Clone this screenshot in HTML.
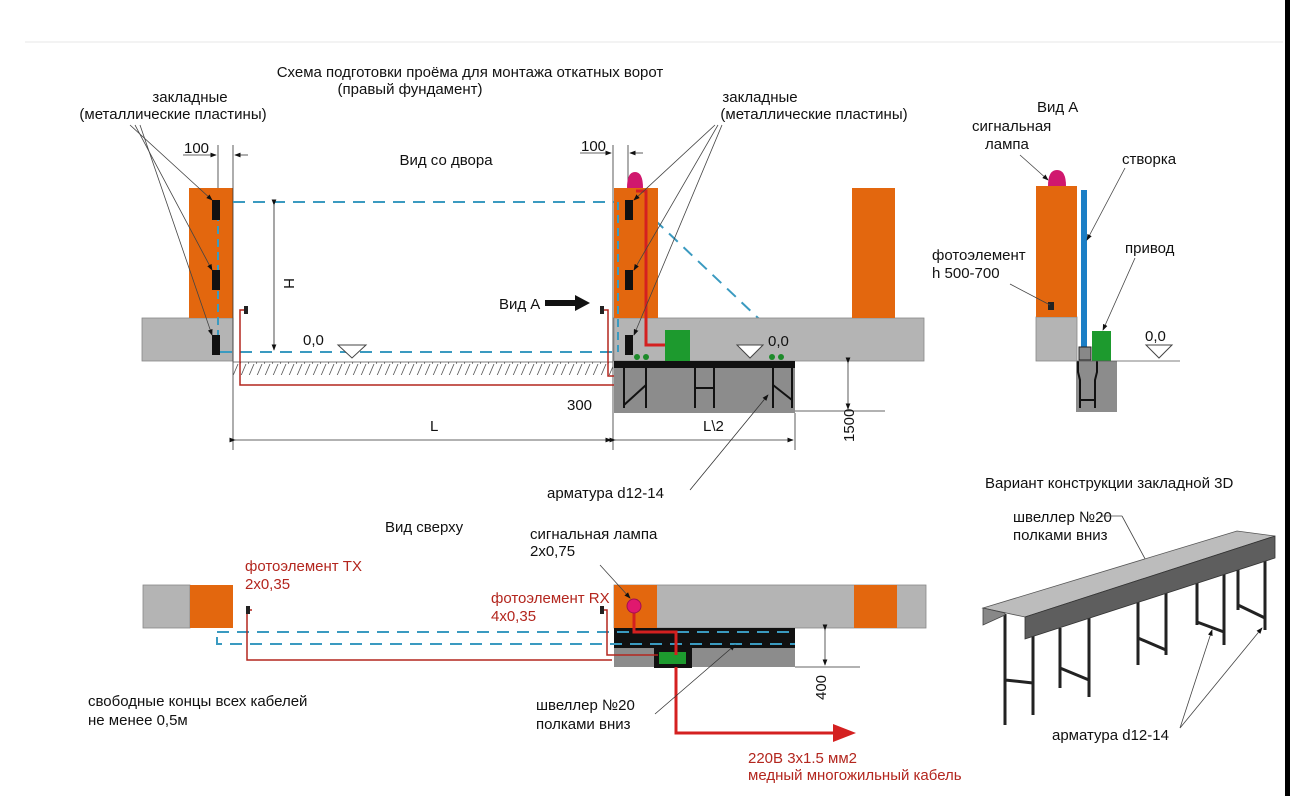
<!DOCTYPE html>
<html><head><meta charset="utf-8"><style>
html,body{margin:0;padding:0;background:#fff;}
svg{display:block;}
text{font-family:"Liberation Sans","DejaVu Sans",sans-serif;font-size:15px;fill:#111;}
.r{fill:#b3261e;}
</style></head><body>
<svg width="1290" height="796" viewBox="0 0 1290 796" xmlns="http://www.w3.org/2000/svg">
<defs>
<marker id="a" markerWidth="8" markerHeight="8" refX="7" refY="4" orient="auto"><path d="M0,1 L8,4 L0,7z" fill="#111"/></marker>
<pattern id="h" width="8" height="14" patternUnits="userSpaceOnUse"><line x1="0" y1="14" x2="6" y2="0" stroke="#555" stroke-width="0.8"/></pattern>
</defs>
<rect x="1285" y="0" width="5" height="796" fill="#000"/>
<line x1="25" y1="42" x2="1283" y2="42" stroke="#f3f3f3" stroke-width="2"/>

<!-- titles -->
<text x="470" y="77" text-anchor="middle">Схема подготовки проёма для монтажа откатных ворот</text>
<text x="410" y="94" text-anchor="middle">(правый фундамент)</text>
<text x="190" y="102" text-anchor="middle">закладные</text>
<text x="173" y="119" text-anchor="middle">(металлические пластины)</text>
<text x="760" y="102" text-anchor="middle">закладные</text>
<text x="814" y="119" text-anchor="middle">(металлические пластины)</text>
<text x="446" y="165" text-anchor="middle">Вид со двора</text>

<!-- left pillar -->
<rect x="142" y="318" width="91" height="43" fill="#b4b4b4" stroke="#888" stroke-width="0.8"/>
<rect x="189" y="188" width="44" height="130" fill="#e3670e"/>
<line x1="218" y1="200" x2="218" y2="352" stroke="#3a9ac0" stroke-width="2" stroke-dasharray="8,5"/>
<rect x="212" y="200" width="8" height="20" fill="#111"/>
<rect x="212" y="270" width="8" height="20" fill="#111"/>
<rect x="212" y="335" width="8" height="20" fill="#111"/>
<g stroke="#444" stroke-width="0.8" fill="none" marker-end="url(#a)">
<line x1="130" y1="125" x2="212" y2="200"/>
<line x1="135" y1="125" x2="212" y2="270"/>
<line x1="140" y1="125" x2="212" y2="335"/>
</g>
<g stroke="#333" stroke-width="0.8">
<line x1="218" y1="145" x2="218" y2="188"/><line x1="233" y1="145" x2="233" y2="450"/>
<line x1="183" y1="155" x2="216" y2="155" marker-end="url(#a)"/><line x1="248" y1="155" x2="235" y2="155" marker-end="url(#a)"/>
<line x1="613" y1="145" x2="613" y2="450"/><line x1="628" y1="145" x2="628" y2="188"/>
<line x1="580" y1="153" x2="611" y2="153" marker-end="url(#a)"/><line x1="643" y1="153" x2="630" y2="153" marker-end="url(#a)"/>
</g>
<text x="184" y="153">100</text>
<text x="581" y="151">100</text>

<rect x="233" y="362" width="380" height="13" fill="url(#h)"/>
<line x1="233" y1="362" x2="613" y2="362" stroke="#555" stroke-width="0.8"/>

<g stroke="#3a9ac0" stroke-width="2" stroke-dasharray="12,8" fill="none">
<line x1="233" y1="202" x2="630" y2="202"/>
<line x1="220" y1="352" x2="795" y2="352"/>
<line x1="640" y1="206" x2="795" y2="353"/>
</g>
<line x1="274" y1="205" x2="274" y2="350" stroke="#222" stroke-width="0.8" marker-end="url(#a)" marker-start="url(#a)"/>
<text x="0" y="0" transform="translate(284,278) rotate(90)" font-size="17">H</text>
<text x="303" y="345" font-size="21">0,0</text>
<path d="M338,345 L366,345 L352,358z" fill="#fff" stroke="#444"/>

<g fill="none" stroke="#b3261e" stroke-width="1.5">
<path d="M246,310 L240,310 L240,385 L613,385"/>
<path d="M603,310 L608,310 L608,376 L672,376 L672,361"/>
<path d="M613,385 L679,385 L679,361"/>
</g>
<rect x="244" y="306" width="4" height="8" fill="#222"/>
<rect x="600" y="306" width="4" height="8" fill="#222"/>
<text x="499" y="309">Вид А</text>
<path d="M545,300 L575,300 L575,295 L590,303 L575,311 L575,306 L545,306z" fill="#111"/>
<text x="567" y="410">300</text>

<!-- right pillar -->
<rect x="614" y="318" width="310" height="43" fill="#b4b4b4" stroke="#888" stroke-width="0.8"/>
<rect x="614" y="188" width="44" height="130" fill="#e3670e"/>
<rect x="852" y="188" width="43" height="130" fill="#e3670e"/>
<rect x="614" y="368" width="181" height="45" fill="#8c8c8c"/>
<rect x="614" y="361" width="181" height="7" fill="#111"/>
<g stroke="#111" stroke-width="2" fill="none">
<line x1="624" y1="368" x2="624" y2="408"/><line x1="646" y1="368" x2="646" y2="408"/><line x1="624" y1="405" x2="646" y2="385"/>
<line x1="695" y1="368" x2="695" y2="408"/><line x1="714" y1="368" x2="714" y2="408"/><line x1="695" y1="388" x2="714" y2="388"/>
<line x1="773" y1="368" x2="773" y2="408"/><line x1="792" y1="368" x2="792" y2="408"/><line x1="773" y1="385" x2="792" y2="400"/>
</g>
<path d="M627,188 Q627,172 635,172 Q643,172 643,188z" fill="#d0186e"/>
<line x1="618" y1="202" x2="618" y2="352" stroke="#3a9ac0" stroke-width="2" stroke-dasharray="8,5"/>
<rect x="625" y="200" width="8" height="20" fill="#111"/>
<rect x="625" y="270" width="8" height="20" fill="#111"/>
<rect x="625" y="335" width="8" height="20" fill="#111"/>
<path d="M636,191 L646,191 L646,345 L665,345" fill="none" stroke="#d42020" stroke-width="3"/>
<rect x="665" y="330" width="25" height="31" fill="#1d9a2e"/>
<g fill="#1d8a2a"><circle cx="637" cy="357" r="3"/><circle cx="646" cy="357" r="3"/><circle cx="772" cy="357" r="3"/><circle cx="781" cy="357" r="3"/></g>
<g stroke="#444" stroke-width="0.8" fill="none" marker-end="url(#a)">
<line x1="715" y1="125" x2="634" y2="200"/>
<line x1="718" y1="125" x2="634" y2="270"/>
<line x1="722" y1="125" x2="634" y2="335"/>
</g>
<path d="M737,345 L763,345 L750,358z" fill="#fff" stroke="#444"/>
<text x="768" y="346" font-size="21">0,0</text>
<g stroke="#333" stroke-width="0.8">
<line x1="235" y1="440" x2="611" y2="440" marker-end="url(#a)" marker-start="url(#a)"/>
<line x1="615" y1="440" x2="793" y2="440" marker-end="url(#a)" marker-start="url(#a)"/>
<line x1="795" y1="413" x2="795" y2="450"/>
<line x1="795" y1="411" x2="885" y2="411"/>
<line x1="848" y1="363" x2="848" y2="409" marker-end="url(#a)" marker-start="url(#a)"/>
</g>
<text x="430" y="431" font-size="16">L</text>
<text x="703" y="431" font-size="16">L\2</text>
<text transform="translate(854,442) rotate(-90)">1500</text>
<line x1="690" y1="490" x2="768" y2="395" stroke="#333" stroke-width="0.8" marker-end="url(#a)"/>
<text x="547" y="498">арматура d12-14</text>

<!-- Vid A -->
<text x="1037" y="112" font-size="17">Вид А</text>
<text x="972" y="131">сигнальная</text>
<text x="985" y="149">лампа</text>
<line x1="1020" y1="155" x2="1048" y2="180" stroke="#444" stroke-width="0.8" marker-end="url(#a)"/>
<rect x="1036" y="317" width="41" height="44" fill="#b4b4b4" stroke="#888" stroke-width="0.8"/>
<rect x="1036" y="186" width="41" height="131" fill="#e3670e"/>
<path d="M1048,186 Q1048,170 1057,170 Q1066,170 1066,186z" fill="#d0186e"/>
<rect x="1048" y="302" width="6" height="8" fill="#222"/>
<rect x="1081" y="190" width="6" height="160" fill="#1c7fc6"/>
<rect x="1092" y="331" width="19" height="30" fill="#1d9a2e"/>
<rect x="1076" y="361" width="41" height="51" fill="#8c8c8c"/>
<g stroke="#111" stroke-width="2" fill="none"><path d="M1078,361 L1078,372 L1080,380 L1080,408 M1097,361 L1097,372 L1095,380 L1095,408 M1080,400 L1095,400"/></g>
<rect x="1079" y="347" width="12" height="13" fill="#888" stroke="#222"/>
<line x1="1077" y1="361" x2="1180" y2="361" stroke="#555" stroke-width="0.8"/>
<path d="M1146,345 L1172,345 L1159,358z" fill="#fff" stroke="#444"/>
<text x="1145" y="341" font-size="21">0,0</text>
<text x="1122" y="164">створка</text>
<line x1="1125" y1="168" x2="1087" y2="240" stroke="#444" stroke-width="0.8" marker-end="url(#a)"/>
<text x="1125" y="253">привод</text>
<line x1="1135" y1="258" x2="1103" y2="330" stroke="#444" stroke-width="0.8" marker-end="url(#a)"/>
<text x="932" y="260">фотоэлемент</text>
<text x="932" y="278">h 500-700</text>
<line x1="1010" y1="284" x2="1050" y2="305" stroke="#444" stroke-width="0.8"/>

<!-- top view -->
<text x="385" y="532">Вид сверху</text>
<rect x="143" y="585" width="47" height="43" fill="#b4b4b4" stroke="#888" stroke-width="0.8"/>
<rect x="190" y="585" width="43" height="43" fill="#e3670e"/>
<rect x="614" y="585" width="312" height="43" fill="#b4b4b4" stroke="#888" stroke-width="0.8"/>
<rect x="614" y="585" width="43" height="43" fill="#e3670e"/>
<rect x="854" y="585" width="43" height="43" fill="#e3670e"/>
<rect x="614" y="628" width="181" height="20" fill="#111"/>
<rect x="614" y="648" width="181" height="19" fill="#8c8c8c"/>
<rect x="654" y="646" width="38" height="22" fill="#111"/>
<rect x="659" y="652" width="27" height="12" fill="#1d9a2e"/>
<g stroke="#3a9ac0" stroke-width="2" stroke-dasharray="12,8" fill="none">
<line x1="217" y1="632" x2="795" y2="632"/>
<path d="M217,637 L217,644 L795,644"/>
</g>
<g fill="none" stroke="#b3261e" stroke-width="1.5">
<path d="M252,610 L247,610 L247,660 L612,660"/>
<path d="M603,610 L607,610 L607,655 L658,655"/>
</g>
<rect x="246" y="606" width="4" height="8" fill="#222"/>
<rect x="600" y="606" width="4" height="8" fill="#222"/>
<path d="M634,613 L634,632 L676,632 L676,655 M676,667 L676,733 L835,733" fill="none" stroke="#d42020" stroke-width="3"/>
<path d="M833,724 L856,733 L833,742z" fill="#d42020"/>
<circle cx="634" cy="606" r="7" fill="#e0186e" stroke="#a01050"/>
<line x1="600" y1="565" x2="630" y2="598" stroke="#444" stroke-width="0.8" marker-end="url(#a)"/>
<g stroke="#333" stroke-width="0.8">
<line x1="795" y1="667" x2="860" y2="667"/>
<line x1="825" y1="630" x2="825" y2="665" marker-end="url(#a)" marker-start="url(#a)"/>
</g>
<text transform="translate(826,700) rotate(-90)">400</text>
<text x="245" y="571" class="r">фотоэлемент TX</text>
<text x="245" y="589" class="r">2x0,35</text>
<text x="491" y="603" class="r">фотоэлемент RX</text>
<text x="491" y="621" class="r">4x0,35</text>
<text x="530" y="539">сигнальная лампа</text>
<text x="530" y="556">2x0,75</text>
<text x="88" y="706">свободные концы всех кабелей</text>
<text x="88" y="725">не менее 0,5м</text>
<text x="536" y="710">швеллер №20</text>
<text x="536" y="729">полками вниз</text>
<line x1="655" y1="714" x2="735" y2="645" stroke="#333" stroke-width="0.8" marker-end="url(#a)"/>
<text x="748" y="763" class="r">220В 3x1.5 мм2</text>
<text x="748" y="780" class="r">медный многожильный кабель</text>

<!-- 3D -->
<text x="985" y="488">Вариант конструкции закладной 3D</text>
<text x="1013" y="522">швеллер №20</text>
<text x="1013" y="540">полками вниз</text>
<line x1="1100" y1="516" x2="1122" y2="516" stroke="#444" stroke-width="0.8"/>
<line x1="1122" y1="516" x2="1150" y2="568" stroke="#444" stroke-width="0.8" marker-end="url(#a)"/>
<g stroke="#222" stroke-width="3" fill="none">
<path d="M1005,614 L1005,725 M1033,632 L1033,715 M1005,680 L1033,683"/>
<path d="M1060,628 L1060,688 M1089,615 L1089,697 M1060,668 L1089,680"/>
<path d="M1138,598 L1138,665 M1166,590 L1166,655 M1138,638 L1166,650"/>
<path d="M1197,575 L1197,625 M1224,570 L1224,645 M1197,622 L1224,632"/>
<path d="M1238,568 L1238,610 M1265,560 L1265,630 M1238,605 L1265,618"/>
</g>
<path d="M983,608 L1237,531 L1275,536 L1025,617z" fill="#bcbcbc" stroke="#555" stroke-width="0.8"/>
<path d="M1025,617 L1275,536 L1275,558 L1025,639z" fill="#5e5e5e" stroke="#333" stroke-width="0.8"/>
<path d="M983,608 L1005,613 L1005,615 L983,625z" fill="#888" stroke="#444" stroke-width="0.8"/>
<text x="1052" y="740">арматура d12-14</text>
<line x1="1180" y1="728" x2="1212" y2="630" stroke="#444" stroke-width="0.8" marker-end="url(#a)"/>
<line x1="1180" y1="728" x2="1262" y2="628" stroke="#444" stroke-width="0.8" marker-end="url(#a)"/>
</svg>
</body></html>
